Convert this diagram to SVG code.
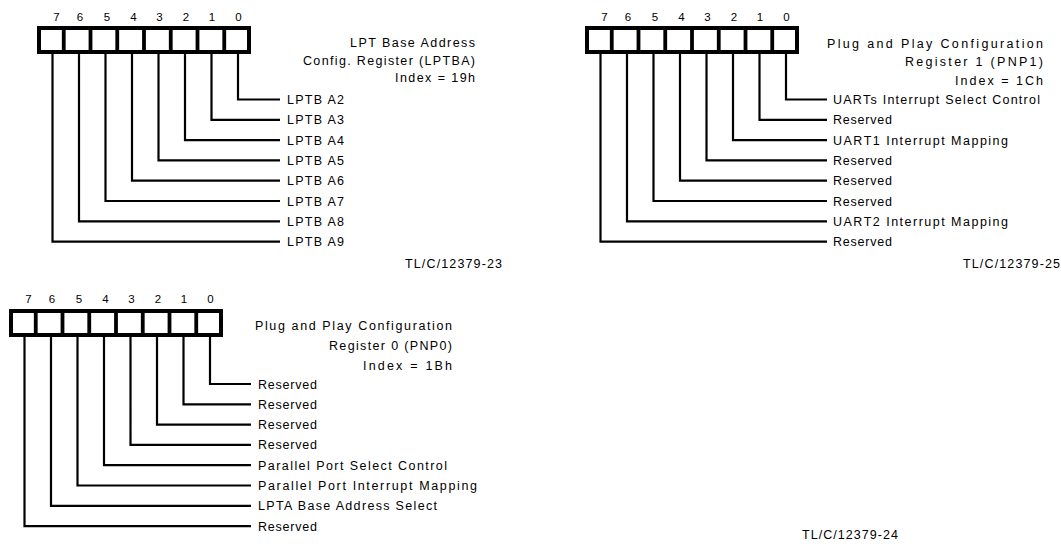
<svg xmlns="http://www.w3.org/2000/svg" width="1061" height="546" viewBox="0 0 1061 546">
<style>
.bg{fill:#fff}
.box{fill:#fff;stroke:#000;stroke-width:4}
.div{stroke:#000;stroke-width:3.8}
.wire{fill:none;stroke:#000;stroke-width:2.2}
.t{font-family:"Liberation Sans",Arial,sans-serif;font-size:12.5px;fill:#000}
.d{font-family:"Liberation Sans",Arial,sans-serif;font-size:11.5px;fill:#000;text-anchor:middle}
.r{text-anchor:end}
.tl{font-family:"Liberation Sans",Arial,sans-serif;font-size:12.5px;fill:#000}
</style>
<defs>
<g id="reg">
<rect class="box" x="2" y="2" width="210" height="24"/>
<path class="div" d="M26.75,0V28M53.5,0V28M80.25,0V28M107,0V28M133.75,0V28M160.5,0V28M187.25,0V28"/>
</g>
<g id="digits">
<text class="d" x="19.5" y="0">7</text>
<text class="d" x="43" y="0">6</text>
<text class="d" x="70" y="0">5</text>
<text class="d" x="96.5" y="0">4</text>
<text class="d" x="122.5" y="0">3</text>
<text class="d" x="149" y="0">2</text>
<text class="d" x="175" y="0">1</text>
<text class="d" x="201.5" y="0">0</text>
</g>
</defs>
<rect class="bg" x="0" y="0" width="1061" height="546"/>

<g id="lptba">
<use href="#reg" x="37" y="26"/>
<use href="#digits" x="37" y="21"/>
<text class="t r" x="475" y="47" textLength="125" lengthAdjust="spacing">LPT Base Address</text>
<text class="t r" x="475" y="65" textLength="172" lengthAdjust="spacing">Config. Register (LPTBA)</text>
<text class="t r" x="475" y="82" textLength="80" lengthAdjust="spacing">Index = 19h</text>
<text class="t" x="287" y="104" textLength="57" lengthAdjust="spacing">LPTB A2</text>
<text class="t" x="287" y="124.3" textLength="57" lengthAdjust="spacing">LPTB A3</text>
<text class="t" x="287" y="144.6" textLength="57" lengthAdjust="spacing">LPTB A4</text>
<text class="t" x="287" y="164.9" textLength="57" lengthAdjust="spacing">LPTB A5</text>
<text class="t" x="287" y="185.2" textLength="57" lengthAdjust="spacing">LPTB A6</text>
<text class="t" x="287" y="205.5" textLength="57" lengthAdjust="spacing">LPTB A7</text>
<text class="t" x="287" y="225.8" textLength="57" lengthAdjust="spacing">LPTB A8</text>
<text class="t" x="287" y="246.1" textLength="57" lengthAdjust="spacing">LPTB A9</text>
<text class="tl" x="405" y="268" textLength="97" lengthAdjust="spacing">TL/C/12379-23</text>
</g>

<g id="pnp1">
<use href="#reg" x="585" y="26"/>
<use href="#digits" x="585" y="21"/>
<text class="t r" x="1043" y="47.5" textLength="216" lengthAdjust="spacing">Plug and Play Configuration</text>
<text class="t r" x="1043" y="66" textLength="138" lengthAdjust="spacing">Register 1 (PNP1)</text>
<text class="t r" x="1043" y="85" textLength="88" lengthAdjust="spacing">Index = 1Ch</text>
<text class="t" x="833" y="104" textLength="207" lengthAdjust="spacing">UARTs Interrupt Select Control</text>
<text class="t" x="833" y="124.3" textLength="59" lengthAdjust="spacing">Reserved</text>
<text class="t" x="833" y="144.6" textLength="175" lengthAdjust="spacing">UART1 Interrupt Mapping</text>
<text class="t" x="833" y="164.9" textLength="59" lengthAdjust="spacing">Reserved</text>
<text class="t" x="833" y="185.2" textLength="59" lengthAdjust="spacing">Reserved</text>
<text class="t" x="833" y="205.5" textLength="59" lengthAdjust="spacing">Reserved</text>
<text class="t" x="833" y="225.8" textLength="175" lengthAdjust="spacing">UART2 Interrupt Mapping</text>
<text class="t" x="833" y="246.1" textLength="59" lengthAdjust="spacing">Reserved</text>
<text class="tl" x="963" y="268" textLength="97" lengthAdjust="spacing">TL/C/12379-25</text>
</g>

<g id="pnp0">
<use href="#reg" x="9" y="309"/>
<use href="#digits" x="9" y="303"/>
<text class="t r" x="452" y="329.5" textLength="197" lengthAdjust="spacing">Plug and Play Configuration</text>
<text class="t r" x="452" y="350" textLength="123" lengthAdjust="spacing">Register 0 (PNP0)</text>
<text class="t r" x="452" y="369.5" textLength="89" lengthAdjust="spacing">Index = 1Bh</text>
<text class="t" x="258" y="388.5" textLength="59" lengthAdjust="spacing">Reserved</text>
<text class="t" x="258" y="408.8" textLength="59" lengthAdjust="spacing">Reserved</text>
<text class="t" x="258" y="429.1" textLength="59" lengthAdjust="spacing">Reserved</text>
<text class="t" x="258" y="449.4" textLength="59" lengthAdjust="spacing">Reserved</text>
<text class="t" x="258" y="469.7" textLength="189" lengthAdjust="spacing">Parallel Port Select Control</text>
<text class="t" x="258" y="490" textLength="219" lengthAdjust="spacing">Parallel Port Interrupt Mapping</text>
<text class="t" x="258" y="510.3" textLength="179" lengthAdjust="spacing">LPTA Base Address Select</text>
<text class="t" x="258" y="530.6" textLength="59" lengthAdjust="spacing">Reserved</text>
</g>

<text class="tl" x="802" y="539" textLength="96" lengthAdjust="spacing">TL/C/12379-24</text>

<g id="connectors">
<path class="wire" d="M238,54V99.5H280M211.5,54V119.8H280M185,54V140.1H280M158.5,54V160.4H280M132,54V180.7H280M105.5,54V201H280M79,54V221.3H280M52.5,54V241.6H280"/>
<path class="wire" d="M786,54V99.5H827M759.5,54V119.8H827M733,54V140.1H827M706.5,54V160.4H827M680,54V180.7H827M653.5,54V201H827M627,54V221.3H827M600.5,54V241.6H827"/>
<path class="wire" d="M210,337V384H251M183.5,337V404.3H251M157,337V424.6H251M130.5,337V444.9H251M104,337V465.2H251M77.5,337V485.5H251M51,337V505.8H251M24.5,337V526.1H251"/>
</g>
</svg>
